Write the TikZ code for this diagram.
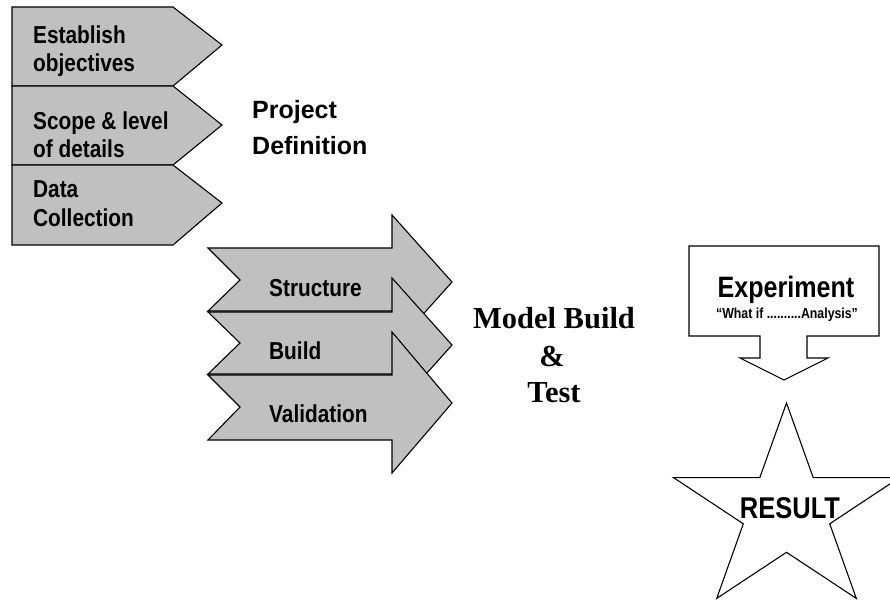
\documentclass[tikz,border=0pt]{standalone}
\usepackage{fontspec}
\setmainfont{Liberation Sans}
\newfontfamily\narrowfont[FakeStretch=0.85]{Liberation Sans}
\newfontfamily\serifbf{Liberation Serif}
\definecolor{shapegray}{HTML}{C0C0C0}
\begin{document}
\begin{tikzpicture}[x=1pt,y=-1pt,
  graybox/.style={draw=black,fill=shapegray,line width=1.1pt,line join=miter},
  whitebox/.style={draw=black,fill=white,line width=1.1pt,line join=miter},
  chevtext/.style={anchor=base west,inner sep=0pt,font=\narrowfont\bfseries\fontsize{24.5}{28}\selectfont},
  arrtext/.style={anchor=base west,inner sep=0pt,font=\narrowfont\bfseries\fontsize{24.5}{28}\selectfont},
  projtext/.style={anchor=base west,inner sep=0pt,font=\bfseries\fontsize{25}{30}\selectfont},
  modeltext/.style={anchor=base,inner sep=0pt,font=\serifbf\bfseries\fontsize{30.5}{36}\selectfont},
  exptext/.style={anchor=base,inner sep=0pt,font=\narrowfont\bfseries\fontsize{29.5}{32}\selectfont},
  subtext/.style={anchor=base,inner sep=0pt,font=\narrowfont\bfseries\fontsize{14.5}{16}\selectfont},
  restext/.style={anchor=base,inner sep=0pt,font=\narrowfont\bfseries\fontsize{30}{34}\selectfont}]
\useasboundingbox (0,0) rectangle (890,601);
% chevrons
\draw[graybox] (12,7) -- (173,7) -- (222,45) -- (173,86) -- (12,86) -- cycle;
\draw[graybox] (12,86) -- (173,86) -- (222,125) -- (173,165) -- (12,165) -- cycle;
\draw[graybox] (12,165) -- (173,165) -- (222,203) -- (173,245) -- (12,245) -- cycle;
\node[chevtext] (c1a) at (33,44) {Establish};
\node[chevtext] (c1b) at (33,72) {objectives};
\node[chevtext] (c2a) at (33,130) {Scope \& level};
\node[chevtext] (c2b) at (33,158) {of details};
\node[chevtext] (c3a) at (33,198) {Data};
\node[chevtext] (c3b) at (33,227) {Collection};
\node[projtext] (pd1) at (252,119) {Project};
\node[projtext] (pd2) at (252,155) {Definition};
% notched arrows
\draw[graybox] (208,248) -- (392,248) -- (392,215) -- (452,282) -- (392,349) -- (392,311) -- (208,311) -- (240,280) -- cycle;
\draw[graybox] (208,312) -- (392,312) -- (392,278) -- (452,345) -- (392,412) -- (392,374) -- (208,374) -- (240,343) -- cycle;
\draw[graybox] (208,375) -- (392,375) -- (392,332) -- (452,403) -- (392,473) -- (392,440) -- (208,440) -- (240,407) -- cycle;
\node[arrtext] (a1) at (269,296) {Structure};
\node[arrtext] (a2) at (269,359) {Build};
\node[arrtext] (a3) at (269,422) {Validation};
% model build text
\node[modeltext] (m1) at (554,328) {Model Build};
\node[modeltext] (m2) at (552,366) {\&};
\node[modeltext] (m3) at (554,402) {Test};
% experiment callout
\draw[whitebox] (689,246) -- (879,246) -- (879,336) -- (807,336) -- (807,358) -- (828,358) -- (784,380) -- (740,358) -- (760,358) -- (760,336) -- (689,336) -- cycle;
\node[exptext] (e1) at (786,297) {Experiment};
\node[subtext] (e2) at (787,318) {“What if ..........Analysis”};
% star
\draw[whitebox] (786.5,403) -- (813.2,477.6) -- (899.5,477.6) -- (829.7,523.8) -- (856.3,598.4) -- (786.5,552.3) -- (716.7,598.4) -- (743.3,523.8) -- (673.5,477.6) -- (759.8,477.6) -- cycle;
\node[restext] (res) at (790,518) {RESULT};
\end{tikzpicture}
\end{document}
